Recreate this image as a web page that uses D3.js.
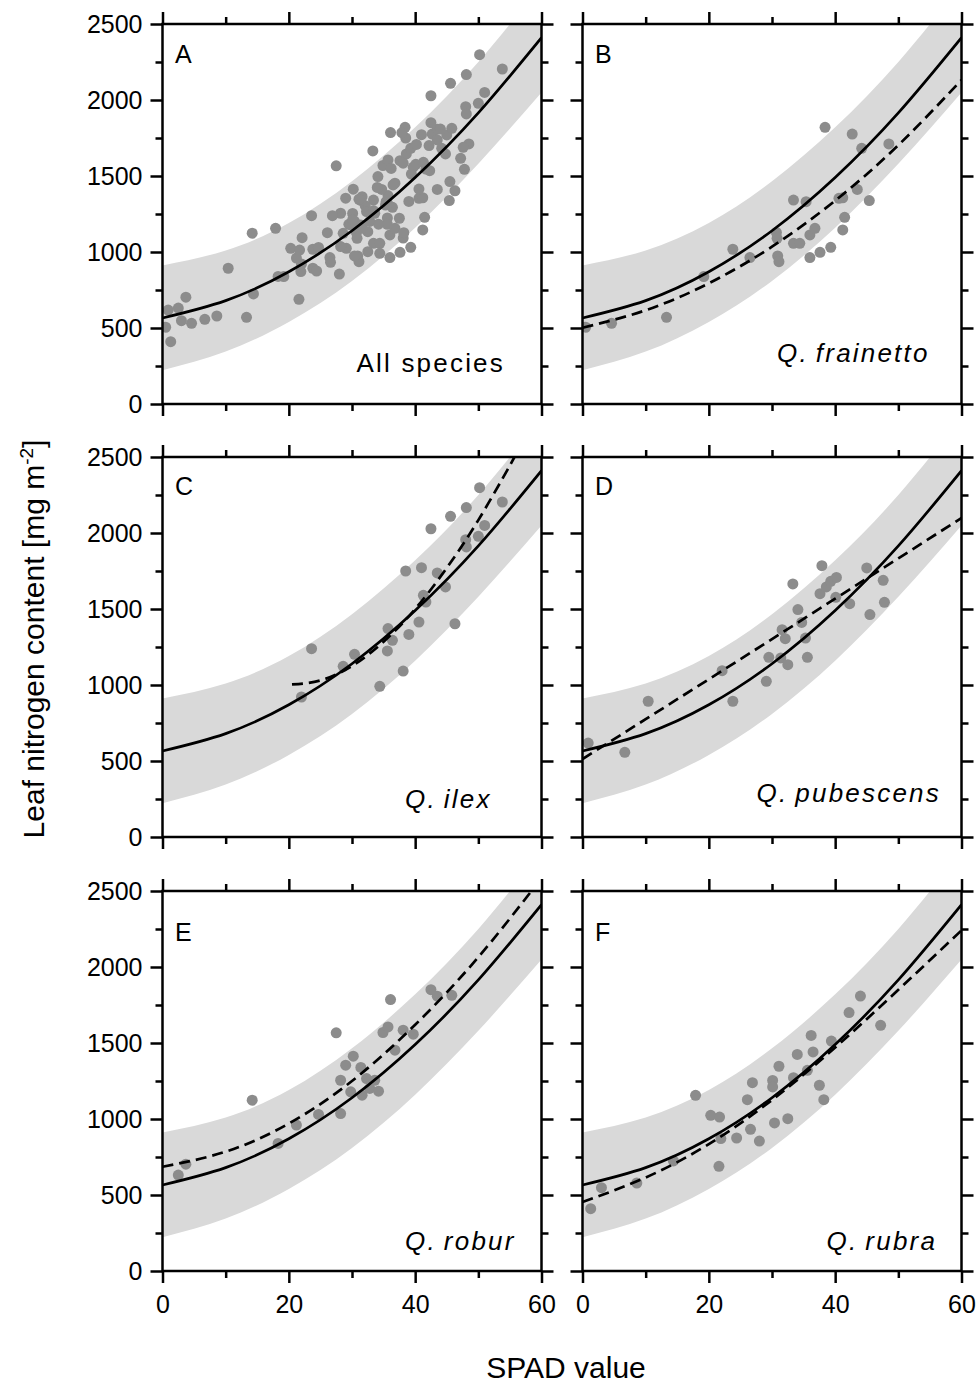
<!DOCTYPE html>
<html>
<head>
<meta charset="utf-8">
<script src="https://cdn.jsdelivr.net/npm/d3@7"></script>
<style>
  body { margin: 0; background: #fff; }
  svg { display: block; }
  text { font-family: "Liberation Sans", Arial, sans-serif; fill: #000; }
</style>
</head>
<body>
<svg id="chart" width="978" height="1383"></svg>
<script>
// ---------------- DATA ----------------
const spadTicks = [0, 10, 20, 30, 40, 50, 60];
const spadLabelTicks = [0, 20, 40, 60];
const nTicks = [0, 250, 500, 750, 1000, 1250, 1500, 1750, 2000, 2250, 2500];
const nLabelTicks = [0, 500, 1000, 1500, 2000, 2500];

// common fit (all species) and its prediction band
const fitSPAD = [0, 10, 20, 30, 40, 50, 60];
const fitAllN = [566, 680, 870, 1140, 1490, 1915, 2410];
const bandUpperN = [912, 1010, 1190, 1465, 1820, 2250, 2760];
const bandLowerN = [222, 345, 540, 810, 1160, 1580, 2050];

// Q. frainetto
const frainettoSPAD = [0.5, 4.6, 13.3, 19.2, 23.8, 26.5, 30.7, 30.8, 30.9, 31.1, 33.4, 33.4, 34.4, 35.4, 36.0, 36.8, 36.0, 37.6, 39.3, 38.4, 40.6, 41.2, 41.5, 41.2, 42.7, 43.5, 44.2, 45.4, 48.5];
const frainettoN = [505, 531, 570, 838, 1018, 963, 1129, 1090, 974, 936, 1342, 1057, 1057, 1331, 1112, 1156, 963, 998, 1031, 1820, 1353, 1357, 1228, 1145, 1776, 1412, 1682, 1338, 1711];
const frainettoFitSPAD = [0, 10, 20, 30, 40, 50, 60];
const frainettoFitN = [502, 617, 794, 1035, 1338, 1703, 2132];

// Q. ilex
const ilexSPAD = [22.0, 23.6, 28.6, 30.4, 34.4, 35.6, 35.7, 36.4, 38.1, 38.5, 39.0, 40.6, 41.0, 41.3, 41.7, 42.5, 43.5, 44.8, 46.3, 45.6, 48.1, 48.0, 48.1, 50.0, 50.2, 51.0, 53.8];
const ilexN = [921, 1239, 1123, 1202, 991, 1224, 1371, 1294, 1092, 1750, 1333, 1414, 1772, 1590, 1546, 2028, 1737, 1645, 1403, 2110, 2167, 1956, 1908, 1978, 2298, 2050, 2204];
const ilexFitSPAD = [20.5, 25, 30, 35, 40, 45, 50, 55, 57];
const ilexFitN = [1004, 1030, 1125, 1285, 1500, 1770, 2085, 2445, 2600];

// Q. pubescens
const pubescensSPAD = [0.9, 6.7, 10.4, 22.1, 23.8, 29.1, 29.5, 31.4, 31.6, 32.1, 32.5, 33.3, 34.1, 34.7, 35.3, 35.6, 37.6, 37.9, 38.6, 39.3, 40.2, 40.1, 42.3, 45.0, 45.5, 47.6, 47.8];
const pubescensN = [618, 557, 893, 1094, 893, 1024, 1182, 1178, 1364, 1305, 1134, 1665, 1496, 1412, 1309, 1182, 1601, 1785, 1645, 1682, 1708, 1577, 1535, 1770, 1463, 1689, 1544];
const pubescensFitSPAD = [0, 10, 20, 30, 40, 50, 60];
const pubescensFitN = [513, 775, 1038, 1302, 1568, 1833, 2099];

// Q. robur
const roburSPAD = [2.5, 3.7, 14.2, 18.3, 21.2, 24.7, 27.5, 28.2, 28.2, 29.0, 29.8, 30.2, 31.4, 31.6, 32.3, 32.8, 33.6, 34.2, 34.9, 35.7, 36.1, 36.8, 38.1, 39.7, 42.5, 43.5, 45.8];
const roburN = [631, 703, 1124, 839, 960, 1030, 1567, 1036, 1255, 1354, 1179, 1413, 1339, 1157, 1266, 1201, 1255, 1183, 1569, 1606, 1786, 1453, 1584, 1558, 1851, 1808, 1814];
const roburFitSPAD = [0, 10, 20, 30, 40, 50, 60];
const roburFitN = [686, 785, 970, 1250, 1620, 2065, 2585];

// Q. rubra
const rubraSPAD = [1.3, 3.0, 8.6, 14.4, 17.9, 20.3, 21.7, 21.6, 21.9, 24.4, 26.1, 26.6, 26.9, 28.0, 30.1, 30.1, 30.4, 31.1, 32.5, 33.4, 34.0, 35.6, 36.2, 36.5, 37.5, 38.2, 39.4, 42.2, 44.0, 47.2];
const rubraN = [410, 548, 579, 724, 1156, 1024, 1013, 689, 871, 875, 1127, 932, 1239, 855, 1254, 1211, 974, 1347, 1002, 1272, 1425, 1320, 1550, 1441, 1222, 1127, 1513, 1700, 1809, 1616];
const rubraFitSPAD = [0, 10, 20, 30, 40, 50, 60];
const rubraFitN = [454, 615, 835, 1125, 1470, 1850, 2241];

// all species = union of the species panels
const allSPAD = [].concat(frainettoSPAD, ilexSPAD, pubescensSPAD, roburSPAD, rubraSPAD);
const allN = [].concat(frainettoN, ilexN, pubescensN, roburN, rubraN);

const panelLetters = ["A", "B", "C", "D", "E", "F"];
const panelNames = ["All species", "frainetto", "ilex", "pubescens", "robur", "rubra"];

// ---------------- LAYOUT ----------------
const L = { colX: [162.5, 582.5], rowY: [24, 457, 891], pw: 379, ph: 380 };

const panels = [
  { col: 0, row: 0, spad: allSPAD, n: allN, fx: null, fy: null, letterDy: 39, lx: 194, ly: 348, italic: false },
  { col: 1, row: 0, spad: frainettoSPAD, n: frainettoN, fx: frainettoFitSPAD, fy: frainettoFitN, letterDy: 39, lx: 194.5, ly: 337.5, italic: true },
  { col: 0, row: 1, spad: ilexSPAD, n: ilexN, fx: ilexFitSPAD, fy: ilexFitN, letterDy: 37.5, lx: 242.5, ly: 351, italic: true },
  { col: 1, row: 1, spad: pubescensSPAD, n: pubescensN, fx: pubescensFitSPAD, fy: pubescensFitN, letterDy: 38, lx: 174, ly: 345, italic: true },
  { col: 0, row: 2, spad: roburSPAD, n: roburN, fx: roburFitSPAD, fy: roburFitN, letterDy: 50, lx: 242.5, ly: 359, italic: true },
  { col: 1, row: 2, spad: rubraSPAD, n: rubraN, fx: rubraFitSPAD, fy: rubraFitN, letterDy: 49.5, lx: 244, ly: 358.5, italic: true }
];

const svg = d3.select("#chart");
const defs = svg.append("defs");

const nMinor = nTicks.filter(v => !nLabelTicks.includes(v));
const sMinor = spadTicks.filter(v => !spadLabelTicks.includes(v));

function styleAxis(sel, fontSize) {
  sel.select(".domain").remove();
  sel.attr("font-family", "'Liberation Sans', Arial, sans-serif").attr("font-size", fontSize);
  sel.selectAll(".tick line").attr("stroke", "#000").attr("stroke-width", 2.5);
  sel.selectAll(".tick text").attr("fill", "#000");
}

panels.forEach((p, i) => {
  const x0 = L.colX[p.col], y0 = L.rowY[p.row];
  const x = d3.scaleLinear().domain([0, 60]).range([x0, x0 + L.pw]);
  const y = d3.scaleLinear().domain([0, 2500]).range([y0 + L.ph, y0]);
  const g = svg.append("g");

  defs.append("clipPath").attr("id", "clip" + i)
    .append("rect").attr("x", x0).attr("y", y0).attr("width", L.pw).attr("height", L.ph);
  const plot = g.append("g").attr("clip-path", `url(#clip${i})`);

  // prediction band
  const band = fitSPAD.map((s, k) => ({ s, lo: bandLowerN[k], hi: bandUpperN[k] }));
  plot.append("path").datum(band)
    .attr("d", d3.area().x(d => x(d.s)).y0(d => y(d.lo)).y1(d => y(d.hi)).curve(d3.curveNatural))
    .attr("fill", "#d9d9d9");

  // points
  plot.append("g").selectAll("circle")
    .data(p.spad.map((s, k) => [s, p.n[k]]))
    .join("circle")
    .attr("cx", d => x(d[0])).attr("cy", d => y(d[1])).attr("r", 5.5)
    .attr("fill", "#8c8c8c");

  const line = d3.line().x(d => x(d[0])).y(d => y(d[1])).curve(d3.curveNatural);

  // common fit (solid)
  plot.append("path").datum(fitSPAD.map((s, k) => [s, fitAllN[k]]))
    .attr("d", line).attr("fill", "none").attr("stroke", "#000").attr("stroke-width", 2.7);

  // species fit (dashed)
  if (p.fx) {
    plot.append("path").datum(p.fx.map((s, k) => [s, p.fy[k]]))
      .attr("d", line).attr("fill", "none").attr("stroke", "#000").attr("stroke-width", 2.7)
      .attr("stroke-dasharray", "11,6");
  }

  // frame
  g.append("rect").attr("x", x0).attr("y", y0).attr("width", L.pw).attr("height", L.ph)
    .attr("fill", "none").attr("stroke", "#000").attr("stroke-width", 2.5);

  // y axes
  const leftMajor = g.append("g").attr("transform", `translate(${x0},0)`)
    .call(d3.axisLeft(y).tickValues(nLabelTicks).tickSize(12).tickPadding(8)
      .tickFormat(p.col === 0 ? d3.format("d") : () => ""));
  styleAxis(leftMajor, 25);
  const leftMinor = g.append("g").attr("transform", `translate(${x0},0)`)
    .call(d3.axisLeft(y).tickValues(nMinor).tickSize(7).tickFormat(() => ""));
  styleAxis(leftMinor, 25);
  const rightMajor = g.append("g").attr("transform", `translate(${x0 + L.pw},0)`)
    .call(d3.axisRight(y).tickValues(nLabelTicks).tickSize(12).tickFormat(() => ""));
  styleAxis(rightMajor, 25);
  const rightMinor = g.append("g").attr("transform", `translate(${x0 + L.pw},0)`)
    .call(d3.axisRight(y).tickValues(nMinor).tickSize(7).tickFormat(() => ""));
  styleAxis(rightMinor, 25);

  // x axes
  const botMajor = g.append("g").attr("transform", `translate(0,${y0 + L.ph})`)
    .call(d3.axisBottom(x).tickValues(spadLabelTicks).tickSize(12).tickPadding(12)
      .tickFormat(p.row === 2 ? d3.format("d") : () => ""));
  styleAxis(botMajor, 25);
  const botMinor = g.append("g").attr("transform", `translate(0,${y0 + L.ph})`)
    .call(d3.axisBottom(x).tickValues(sMinor).tickSize(7).tickFormat(() => ""));
  styleAxis(botMinor, 25);
  const topMajor = g.append("g").attr("transform", `translate(0,${y0})`)
    .call(d3.axisTop(x).tickValues(spadLabelTicks).tickSize(12).tickFormat(() => ""));
  styleAxis(topMajor, 25);
  const topMinor = g.append("g").attr("transform", `translate(0,${y0})`)
    .call(d3.axisTop(x).tickValues(sMinor).tickSize(7).tickFormat(() => ""));
  styleAxis(topMinor, 25);

  // panel letter
  g.append("text").attr("x", x0 + 12.5).attr("y", y0 + p.letterDy)
    .attr("font-size", 25).text(panelLetters[i]);

  // species label
  const t = g.append("text").attr("x", x0 + p.lx).attr("y", y0 + p.ly)
    .attr("font-size", 26).attr("letter-spacing", "2.2px");
  if (p.italic) {
    t.attr("font-style", "italic");
    t.append("tspan").text("Q.");
    t.append("tspan").attr("dx", 7).text(panelNames[i]);
  } else {
    t.text(panelNames[i]);
  }
});

// axis titles
svg.append("text").attr("x", 566).attr("y", 1378).attr("text-anchor", "middle")
  .attr("font-size", 30).text("SPAD value");

const yt = svg.append("text").attr("transform", "translate(44,639) rotate(-90)")
  .attr("text-anchor", "middle").attr("font-size", 30);
yt.append("tspan").text("Leaf nitrogen content [mg m");
yt.append("tspan").attr("dy", -11).attr("font-size", 19).text("-2");
yt.append("tspan").attr("dy", 11).text("]");
</script>
</body>
</html>
